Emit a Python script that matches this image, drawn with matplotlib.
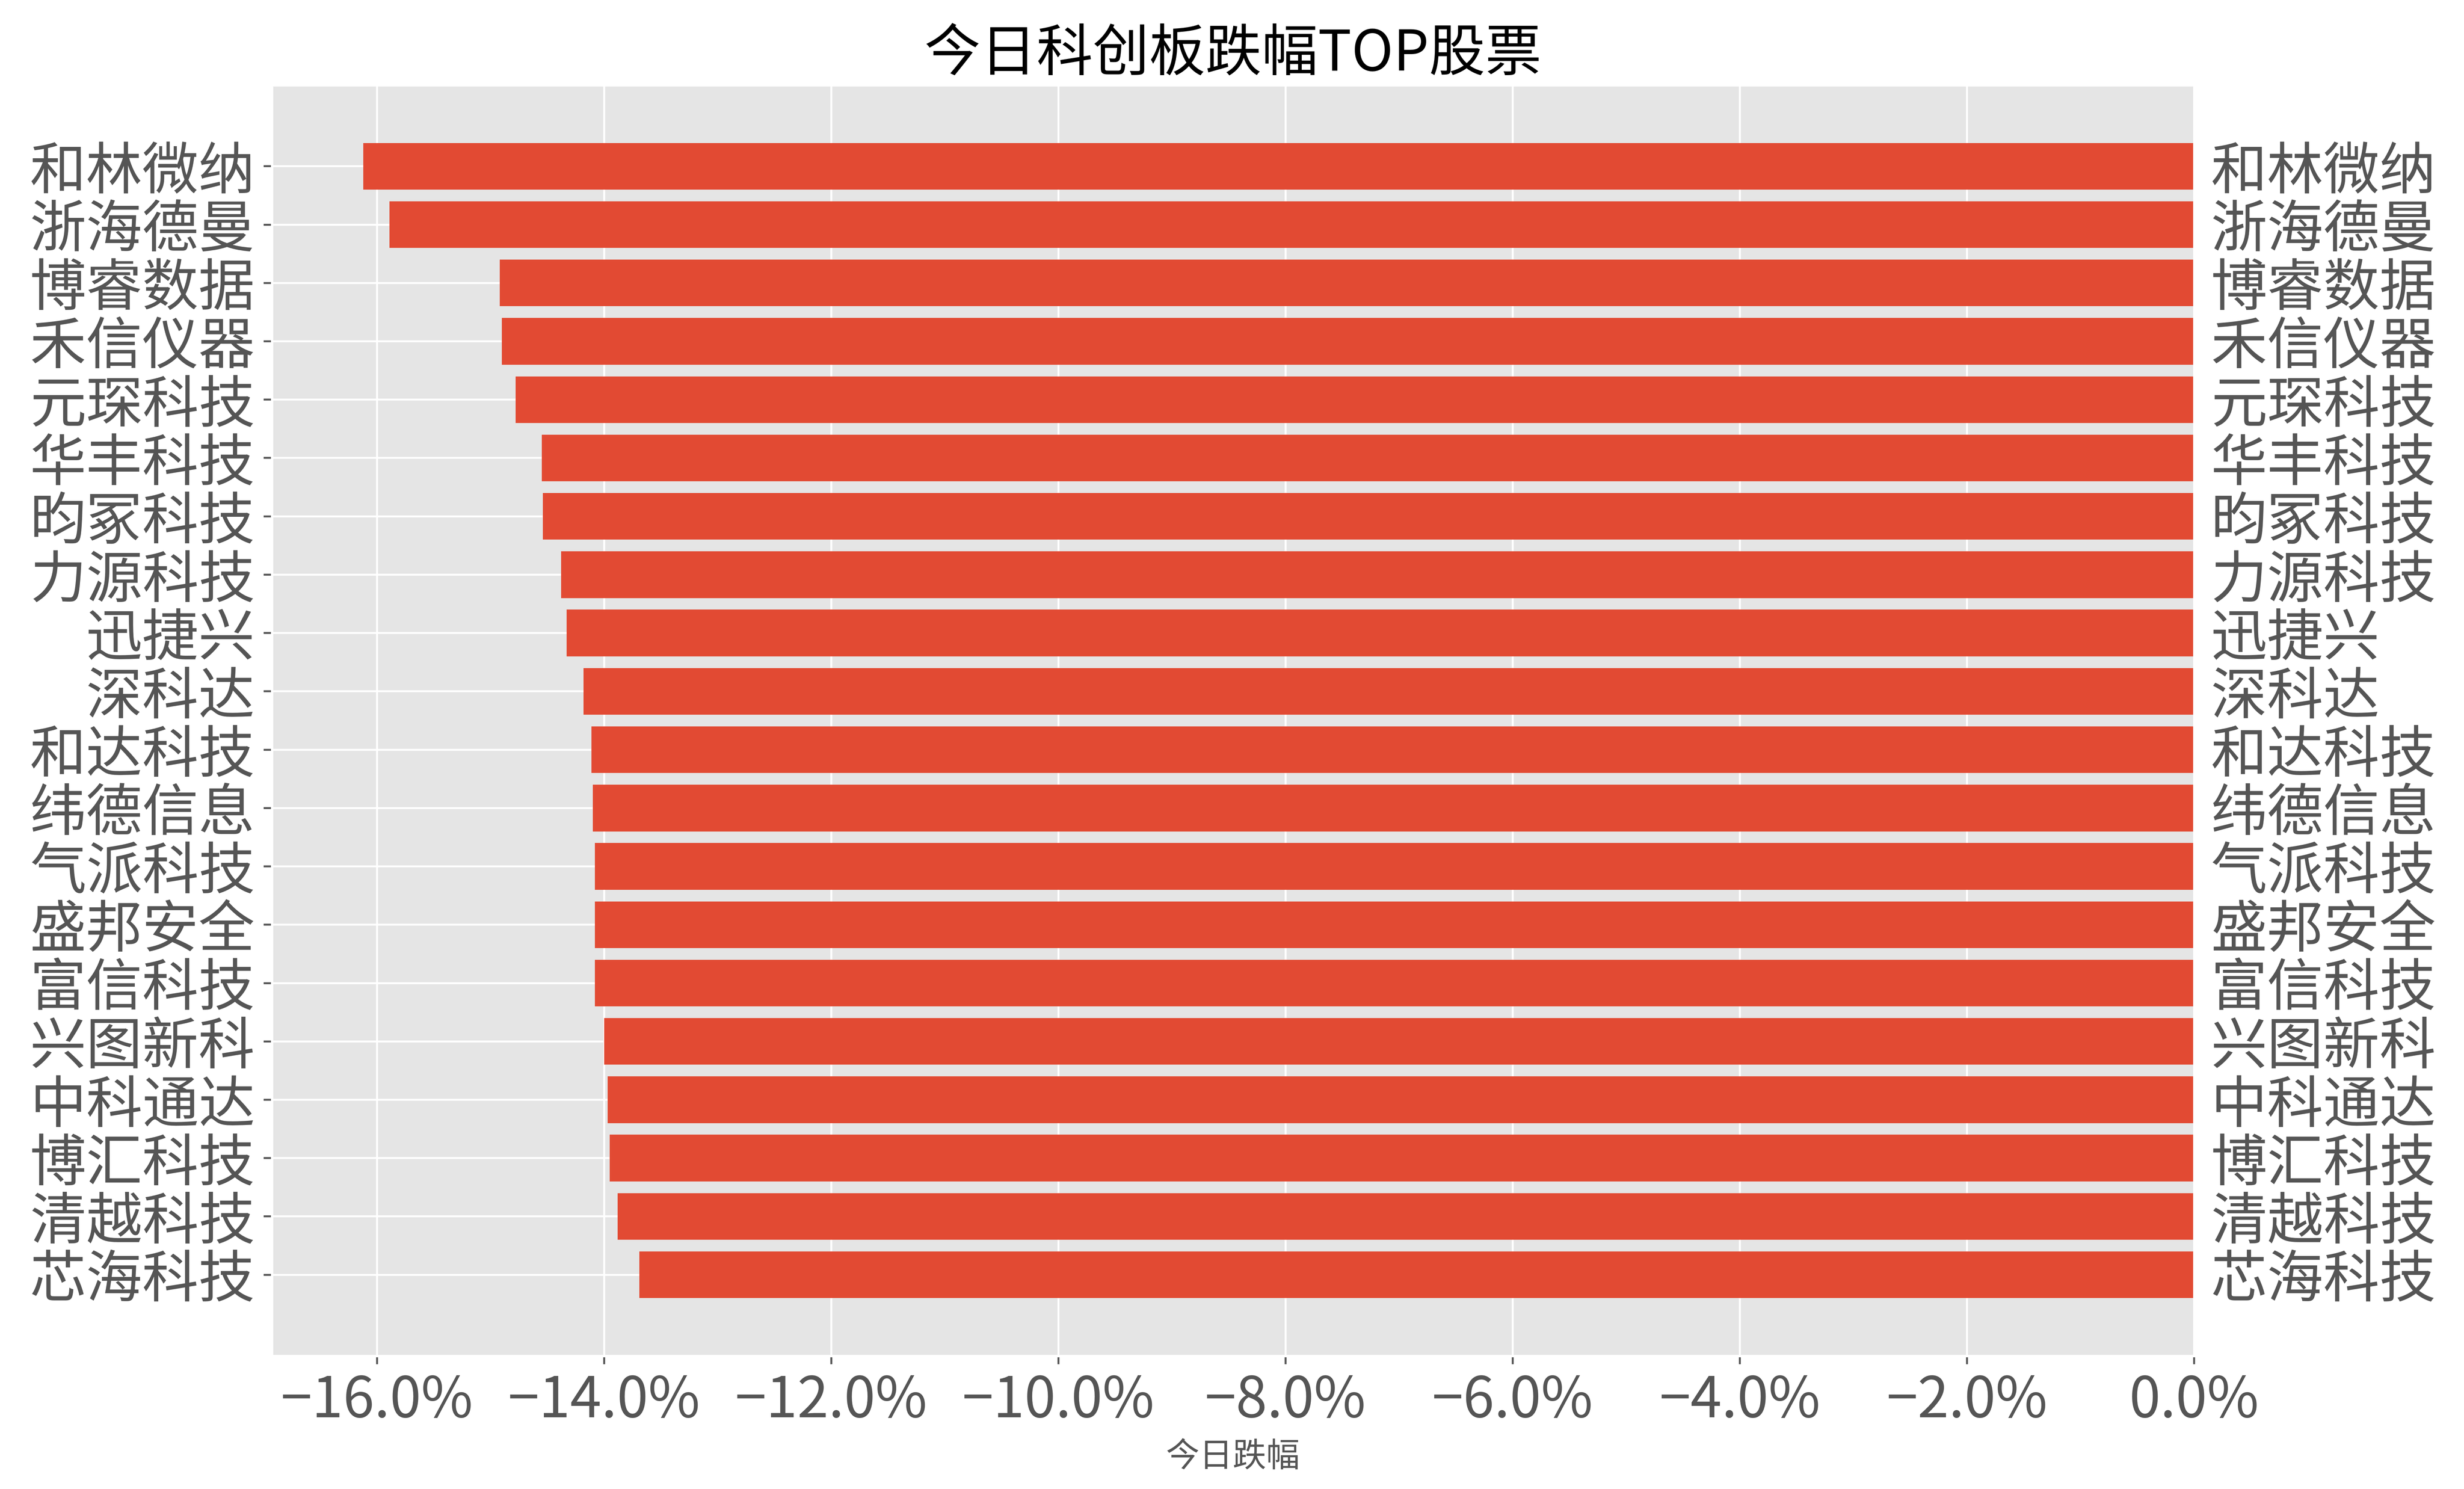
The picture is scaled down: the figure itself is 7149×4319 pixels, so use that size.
import matplotlib
matplotlib.use("Agg")
import matplotlib.pyplot as plt
from matplotlib.ticker import PercentFormatter

names = ["和林微纳", "浙海德曼", "博睿数据", "禾信仪器", "元琛科技",
         "华丰科技", "昀冢科技", "力源科技", "迅捷兴", "深科达",
         "和达科技", "纬德信息", "气派科技", "盛邦安全", "富信科技",
         "兴图新科", "中科通达", "博汇科技", "清越科技", "芯海科技"]
changes = [-16.12, -15.89, -14.92, -14.90, -14.78,
           -14.55, -14.54, -14.38, -14.33, -14.18,
           -14.11, -14.10, -14.08, -14.08, -14.08,
           -14.00, -13.97, -13.95, -13.88, -13.69]

plt.style.use("ggplot")
plt.rcParams['font.family'] = ['Noto Sans CJK SC', 'DejaVu Sans']
plt.rcParams['axes.unicode_minus'] = True

fig = plt.figure(figsize=(7149 / 500, 4319 / 500), dpi=500)
ax = fig.add_axes([0.1103, 0.0894, 0.7802, 0.8534])

y = list(range(len(names)))
ax.barh(y, changes, color="#E24A33", height=0.8)
ax.set_yticks(y)
ax.set_yticklabels(names)
ax.invert_yaxis()
ax.set_xlim(min(changes) * 1.05, 0)

ax.xaxis.set_major_formatter(PercentFormatter(xmax=100, decimals=1))
ax.tick_params(axis='y', labelsize=23.5, labelright=True, right=False)
ax.tick_params(axis='x', labelsize=23.5)

ax.set_title("今日科创板跌幅TOP股票", fontsize=23.5, color="black")
ax.set_xlabel("今日跌幅", fontsize=14, color="#555555")

fig.savefig("out.png", dpi=500)
